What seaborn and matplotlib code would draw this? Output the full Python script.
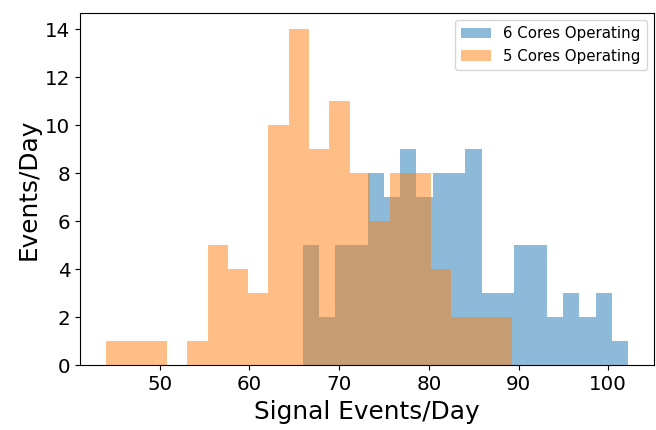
import numpy as np
import pandas as pd
import matplotlib
matplotlib.use("Agg")
import matplotlib.pyplot as plt
import seaborn as sns

# Data (counts per bin, 20 bins each)
six_cores_label = "6 Cores Operating"
five_cores_label = "5 Cores Operating"
six_cores_range = (65.92, 102.21)
five_cores_range = (44.06, 89.23)
six_cores_counts = [5, 2, 5, 5, 8, 7, 9, 7, 8, 8, 9, 3, 3, 5, 5, 2, 3, 2, 3, 1]
five_cores_counts = [1, 1, 1, 0, 1, 5, 4, 3, 10, 14, 9, 11, 8, 6, 8, 8, 4, 2, 2, 2]
y_ticks = [0, 2, 4, 6, 8, 10, 12, 14]
x_ticks = [50, 60, 70, 80, 90, 100]
x_label = "Signal Events/Day"
y_label = "Events/Day"


def make_frame(rng, counts):
    n = len(counts)
    edges = np.linspace(rng[0], rng[1], n + 1)
    centers = (edges[:-1] + edges[1:]) / 2
    return pd.DataFrame({"value": centers, "count": np.asarray(counts, dtype=float)})


fig = plt.figure(figsize=(6.56, 4.30), dpi=100)
ax = fig.add_axes([80.3 / 656, (430 - 365.3) / 430, (654 - 80.3) / 656, (365.3 - 12.5) / 430])

df6 = make_frame(six_cores_range, six_cores_counts)
df5 = make_frame(five_cores_range, five_cores_counts)

sns.histplot(data=df6, x="value", weights="count", bins=len(six_cores_counts),
             binrange=six_cores_range, color="tab:blue", alpha=0.5,
             linewidth=0, label=six_cores_label, ax=ax)
sns.histplot(data=df5, x="value", weights="count", bins=len(five_cores_counts),
             binrange=five_cores_range, color="tab:orange", alpha=0.5,
             linewidth=0, label=five_cores_label, ax=ax)

ax.set_xticks(x_ticks)
ax.set_yticks(y_ticks)
ax.set_xlim(41.15, 105.1)
ax.set_ylim(0, 14.7)
ax.tick_params(labelsize=14.3)
ax.set_xlabel(x_label, fontsize=17.8)
ax.set_ylabel(y_label, fontsize=17.8, labelpad=3)
ax.legend(loc="upper right", fontsize=10.8)

fig.savefig("out.png", dpi=100)
